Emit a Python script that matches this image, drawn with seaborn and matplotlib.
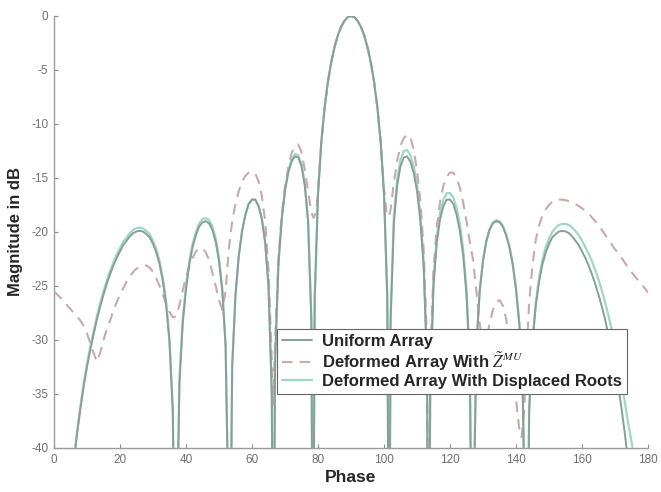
import numpy as np
import pandas as pd
import matplotlib
matplotlib.use("Agg")
import matplotlib.pyplot as plt
import seaborn as sns

# ---------------- data ----------------
uniform_phase = [0, 1, 2, 3, 4, 5, 6, 7, 8, 9, 10, 11, 12, 13, 14, 15, 16, 17, 18, 19,
                 20, 21, 22, 23, 24, 25, 26, 27, 28, 29, 30, 31, 32, 33, 34, 35, 36, 36.87, 37, 38,
                 39, 40, 41, 42, 43, 44, 45, 46, 47, 48, 49, 50, 51, 52, 53, 53.13, 54, 55, 56, 57,
                 58, 59, 60, 61, 62, 63, 64, 65, 66, 66.42, 67, 68, 69, 70, 71, 72, 73, 74, 75, 76,
                 77, 78, 78.46, 79, 80, 81, 82, 83, 84, 85, 86, 87, 88, 89, 90,
                 91, 92, 93, 94, 95, 96, 97, 98, 99, 100, 101, 101.54, 102, 103, 104, 105, 106, 107, 108, 109,
                 110, 111, 112, 113, 113.58, 114, 115, 116, 117, 118, 119, 120, 121, 122, 123, 124, 125, 126, 126.87, 127,
                 128, 129, 130, 131, 132, 133, 134, 135, 136, 137, 138, 139, 140, 141, 142, 143, 143.13, 144, 145, 146,
                 147, 148, 149, 150, 151, 152, 153, 154, 155, 156, 157, 158, 159, 160, 161, 162, 163, 164, 165, 166,
                 167, 168, 169, 170, 171, 172, 173, 174, 175, 176, 177, 178, 179, 180]
uniform_db = [-60, -60, -60, -53.3, -48.3, -44.5, -41.3, -38.7, -36.4, -34.3, -32.5, -30.9, -29.5, -28.1, -26.9, -25.8, -24.8, -23.9, -23.1, -22.4,
              -21.8, -21.2, -20.8, -20.4, -20.1, -19.95, -19.9, -19.96, -20.2, -20.5, -21.1, -21.9, -23.0, -24.6, -26.8, -30.2, -36.6, -60, -52.9, -34.1,
              -28.5, -25.3, -23.0, -21.4, -20.3, -19.5, -19.1, -19.0, -19.2, -19.8, -20.9, -22.7, -25.5, -30.6, -49.0, -60, -32.4, -25.8, -22.2, -19.9,
              -18.4, -17.4, -17.0, -17.0, -17.6, -18.8, -21.0, -25.0, -35.0, -60, -32.0, -23.1, -18.9, -16.2, -14.5, -13.5, -13.0, -13.1, -13.9, -15.7,
              -19.1, -28.3, -60, -26.2, -16.5, -11.7, -8.5, -6.1, -4.3, -2.9, -1.8, -1.0, -0.45, -0.11, 0.0,
              -0.11, -0.45, -1.0, -1.8, -2.9, -4.3, -6.1, -8.5, -11.7, -16.5, -26.2, -60, -28.3, -19.1, -15.7, -13.9, -13.1, -13.0, -13.5, -14.5,
              -16.2, -18.9, -23.1, -32.0, -60, -35.0, -25.0, -21.0, -18.8, -17.6, -17.0, -17.0, -17.4, -18.4, -19.9, -22.2, -25.8, -32.4, -60, -49.0,
              -30.6, -25.5, -22.7, -20.9, -19.8, -19.2, -19.0, -19.1, -19.5, -20.3, -21.4, -23.0, -25.3, -28.5, -34.1, -52.9, -60, -36.6, -30.2, -26.8,
              -24.6, -23.0, -21.9, -21.1, -20.5, -20.2, -19.96, -19.9, -19.95, -20.1, -20.4, -20.8, -21.2, -21.8, -22.4, -23.1, -23.9, -24.8, -25.8, -26.9,
              -28.1, -29.5, -30.9, -32.5, -34.3, -36.4, -38.7, -41.3, -44.5, -48.3, -53.3, -60, -60, -60]

displaced_phase = uniform_phase
displaced_db = [-60, -60, -60, -53.0, -48.0, -44.2, -41.0, -38.4, -36.1, -34.0, -32.2, -30.6, -29.2, -27.8, -26.6, -25.5, -24.5, -23.6, -22.8, -22.1,
                -21.5, -20.9, -20.5, -20.1, -19.8, -19.65, -19.6, -19.66, -19.9, -20.2, -20.8, -21.6, -22.7, -24.3, -26.5, -30.0, -36.4, -60, -52.0, -33.6,
                -28.1, -24.9, -22.7, -21.1, -20.0, -19.2, -18.8, -18.7, -18.9, -19.5, -20.6, -22.4, -25.2, -30.3, -48.0, -60, -32.4, -25.8, -22.2, -19.9,
                -18.4, -17.4, -17.0, -17.0, -17.6, -18.8, -21.0, -25.0, -35.0, -60, -31.8, -22.9, -18.7, -16.0, -14.3, -13.3, -12.8, -12.9, -13.7, -15.5,
                -18.9, -28.0, -60, -26.0, -16.5, -11.7, -8.5, -6.1, -4.3, -2.9, -1.8, -1.0, -0.45, -0.11, 0.0,
                -0.11, -0.45, -1.0, -1.8, -2.9, -4.3, -6.1, -8.5, -11.7, -16.3, -25.8, -60, -27.6, -18.5, -15.1, -13.3, -12.5, -12.4, -12.9, -13.9,
                -15.6, -18.3, -22.6, -31.5, -60, -34.4, -24.4, -20.4, -18.2, -17.0, -16.4, -16.4, -16.8, -17.8, -19.3, -21.6, -25.3, -32.0, -60, -48.0,
                -30.4, -25.4, -22.6, -20.8, -19.7, -19.1, -18.9, -19.0, -19.4, -20.2, -21.3, -22.9, -25.2, -28.4, -34.0, -50.0, -60, -36.0, -30.0, -26.5,
                -24.2, -22.6, -21.4, -20.6, -20.0, -19.6, -19.35, -19.25, -19.25, -19.35, -19.6, -19.9, -20.3, -20.8, -21.4, -22.0, -22.7, -23.5, -24.4, -25.4,
                -26.5, -27.7, -29.0, -30.5, -32.1, -33.9, -35.8, -37.7, -39.4, -41.2, -43.5, -47.0, -52.0, -60]

deformed_phase = [0, 2, 4, 6, 8, 9, 10, 11, 12, 13, 14, 15, 16, 17, 18, 19, 20, 21, 22, 23,
                  24, 25, 26, 27, 28, 29, 30, 31, 32, 33, 34, 35, 36, 37, 38, 39, 40, 41, 42, 43,
                  44, 45, 46, 47, 48, 49, 50, 51, 52, 53, 54, 55, 56, 57, 58, 59, 60, 61, 62, 63,
                  64, 65, 66, 66.5, 67, 68, 69, 70, 71, 72, 73, 74, 75, 76, 77, 78, 78.7, 79.5, 80, 81,
                  82, 83, 84, 85, 86, 87, 88, 89, 90, 91, 92, 93, 94, 95, 96, 97, 98, 99, 100, 100.8,
                  101.5, 102, 103, 104, 105, 106, 107, 108, 109, 110, 111, 112, 113, 113.7, 114, 115, 116, 117, 118, 119,
                  120, 121, 122, 123, 124, 125, 126, 127, 128, 129, 130, 131, 132, 133, 134, 135, 136, 137, 138, 139,
                  140, 141, 141.7, 142.5, 143, 144, 145, 146, 147, 148, 149, 150, 151, 152, 153, 154, 155, 156, 157, 158,
                  160, 162, 164, 166, 168, 170, 172, 174, 176, 178, 180]
deformed_db = [-25.5, -26.1, -26.8, -27.5, -28.2, -28.7, -29.4, -30.3, -31.2, -32.0, -31.2, -30.0, -29.0, -28.2, -27.3, -26.5, -25.8, -25.2, -24.6, -24.1,
               -23.7, -23.4, -23.2, -23.1, -23.1, -23.3, -23.7, -24.3, -25.0, -25.8, -26.7, -27.4, -27.9, -27.8, -26.8, -25.4, -24.2, -23.2, -22.4, -21.8,
               -21.5, -21.5, -21.9, -22.6, -23.8, -25.0, -26.3, -27.2, -25.5, -21.5, -19.0, -17.4, -16.2, -15.3, -14.8, -14.5, -14.4, -14.6, -15.3, -16.7,
               -19.0, -23.5, -32.0, -36.0, -30.0, -22.5, -18.4, -15.8, -14.0, -12.7, -12.0, -11.9, -12.6, -14.2, -16.3, -18.2, -18.7, -18.0, -16.3, -11.7,
               -8.5, -6.1, -4.3, -2.9, -1.8, -1.0, -0.45, -0.11, 0.0, -0.11, -0.45, -1.0, -1.8, -2.9, -4.3, -6.1, -8.5, -11.7, -16.0, -18.3,
               -18.6, -17.9, -15.4, -13.4, -12.0, -11.3, -11.0, -11.2, -12.4, -14.3, -17.0, -21.5, -30.0, -60, -32.0, -23.5, -19.5, -17.2, -15.7, -14.9,
               -14.5, -14.5, -15.0, -15.9, -17.3, -19.0, -20.9, -22.6, -25.5, -28.5, -30.5, -30.0, -28.5, -27.2, -26.5, -26.3, -26.8, -28.0, -30.0, -32.5,
               -35.5, -38.3, -39.0, -36.5, -32.5, -26.5, -23.0, -20.7, -19.4, -18.5, -17.9, -17.5, -17.2, -17.05, -17.0, -17.0, -17.05, -17.15, -17.25, -17.4,
               -17.8, -18.3, -19.0, -19.8, -20.7, -21.6, -22.4, -23.3, -24.1, -24.8, -25.6]

legend_labels = ["Uniform Array",
                 r"Deformed Array With $\tilde{Z}^{MU}$",
                 "Deformed Array With Displaced Roots"]
x_ticks = [0, 20, 40, 60, 80, 100, 120, 140, 160, 180]
y_ticks = [-40, -35, -30, -25, -20, -15, -10, -5, 0]

# ---------------- styling ----------------
sns.set_style("ticks")
plt.rcParams["font.family"] = ["Liberation Sans", "DejaVu Sans"]
plt.rcParams["mathtext.fontset"] = "stix"
plt.rcParams["axes.unicode_minus"] = False

c_uniform = "#87a097"
c_deformed = "#c9aaaa"
c_displaced = "#9dd8c8"

fig = plt.figure(figsize=(6.61, 4.92), dpi=100)
ax = fig.add_axes([54 / 661, 1 - 448 / 492, 594 / 661, 432 / 492])

df_u = pd.DataFrame({"Phase": uniform_phase, "dB": uniform_db})
df_d = pd.DataFrame({"Phase": deformed_phase, "dB": deformed_db})
df_r = pd.DataFrame({"Phase": displaced_phase, "dB": displaced_db})

sns.lineplot(data=df_u, x="Phase", y="dB", ax=ax, color=c_uniform, lw=1.4,
             label=legend_labels[0], estimator=None, sort=False, zorder=3.2)
sns.lineplot(data=df_d, x="Phase", y="dB", ax=ax, color=c_deformed, lw=1.5,
             label=legend_labels[1], estimator=None, sort=False, zorder=3.1)
ax.lines[-1].set_dashes((5, 3.5))
sns.lineplot(data=df_r, x="Phase", y="dB", ax=ax, color=c_displaced, lw=1.6,
             label=legend_labels[2], estimator=None, sort=False, zorder=3.0)

ax.set_xlim(0, 180)
ax.set_ylim(-40, 0)
ax.set_xticks(x_ticks)
ax.set_yticks(y_ticks)
ax.tick_params(direction="in", length=3, width=0.8, colors="#8a8a8a",
               labelcolor="#707070", labelsize=8.5, pad=4)
for s in ["top", "right"]:
    ax.spines[s].set_visible(False)
for s in ["left", "bottom"]:
    ax.spines[s].set_color("#9a9a9a")
    ax.spines[s].set_linewidth(1.0)

ax.set_xlabel("Phase", fontsize=12.5, fontweight="bold", labelpad=3)
ax.set_ylabel("Magnitude in dB", fontsize=12, fontweight="bold", labelpad=6)

leg = ax.legend(loc="upper left", bbox_to_anchor=(0.375, 0.275), frameon=True,
                fancybox=False, framealpha=1, edgecolor="#666666",
                prop={"weight": "bold", "size": 12}, handlelength=1.8,
                handletextpad=0.6, labelspacing=0.05, borderpad=0.3,
                borderaxespad=0)
leg.get_frame().set_linewidth(0.8)

fig.savefig("out.png", dpi=100)
